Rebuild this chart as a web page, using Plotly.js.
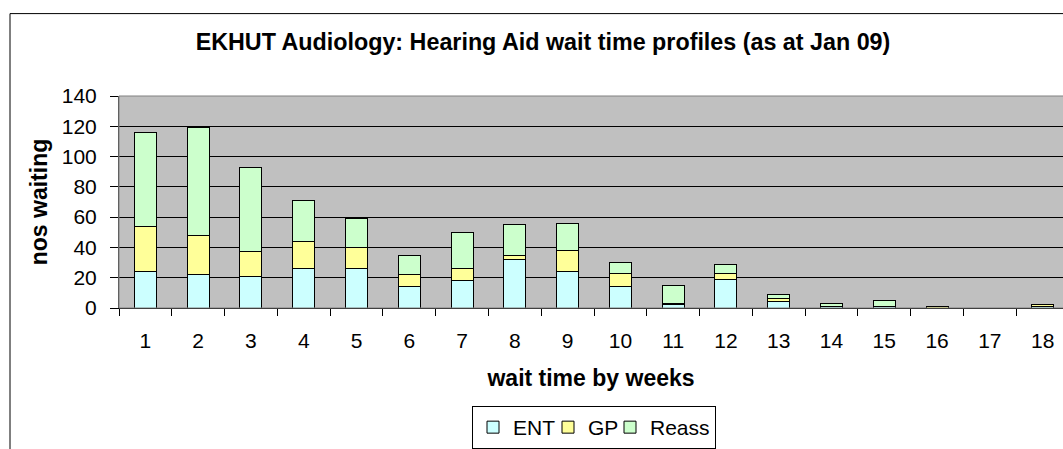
<!DOCTYPE html>
<html>
<head>
<meta charset="utf-8">
<script src="https://cdn.plot.ly/plotly-3.0.1.min.js"></script>
<style>html,body{margin:0;padding:0;background:#fff;}#chart{width:1063px;height:449px;}</style>
</head>
<body>
<div id="chart"></div>
<script>
const weeks = ["1","2","3","4","5","6","7","8","9","10","11","12","13","14","15","16","17","18"];
const ent   = [24, 22, 21, 26, 26, 14, 18, 32, 24, 14, 2, 19, 4, 1, 1, 0, 0, 1];
const gp    = [30, 26, 16, 18, 14,  8,  8,  3, 14,  9, 1,  4, 2, 0, 0, 1, 0, 1];
const reass = [62, 71, 56, 27, 19, 13, 24, 20, 18,  7, 12, 6, 3, 2, 4, 0, 0, 0];
const seriesNames = ["ENT", "GP", "Reass"];
const seriesColors = ["#CCFFFF", "#FFFF99", "#CCFFCC"];
const yTicks = [0, 20, 40, 60, 80, 100, 120, 140];

const FONT = "Liberation Sans, Arial, Helvetica, sans-serif";
const seriesValues = [ent, gp, reass];
const legendWidths = [30, 17, 60];
const traces = seriesValues.map((vals, i) => ({
  type: "bar",
  name: seriesNames[i],
  x: weeks,
  y: vals,
  legendwidth: legendWidths[i],
  marker: {color: seriesColors[i], line: {color: "#000", width: 1}},
  hoverinfo: "x+y+name"
}));

const layout = {
  width: 1063, height: 449,
  margin: {l: 119, r: 0, t: 96, b: 133, pad: 0},
  paper_bgcolor: "#ffffff",
  plot_bgcolor: "#C0C0C0",
  font: {family: FONT, color: "#000", size: 21},
  barmode: "stack",
  bargap: 0.583,
  showlegend: true,
  title: {
    text: "<b>EKHUT Audiology: Hearing Aid wait time profiles (as at Jan 09)</b>",
    font: {family: FONT, size: 23.3, color: "#000"},
    xref: "container", x: 543 / 1063, xanchor: "center",
    yref: "container", y: 1 - 42 / 449, yanchor: "middle"
  },
  xaxis: {
    type: "category",
    categoryorder: "array", categoryarray: weeks,
    range: [-0.5, 17.386],
    tickson: "boundaries",
    ticks: "outside", ticklen: 7, tickwidth: 1, tickcolor: "#000",
    showline: true, linecolor: "#000", linewidth: 1,
    showgrid: false, zeroline: false,
    tickfont: {family: FONT, size: 21, color: "#000"},
    ticklabelstandoff: 14,
    title: {text: "<b>wait time by weeks</b>", font: {family: FONT, size: 23, color: "#000"}, standoff: 18},
    fixedrange: true
  },
  yaxis: {
    range: [0, 140],
    tickvals: yTicks,
    ticktext: yTicks.map(String),
    ticks: "outside", ticklen: 8, tickwidth: 1, tickcolor: "#000",
    showline: true, linecolor: "#404040", linewidth: 1,
    showgrid: true, gridcolor: "#000", gridwidth: 1,
    zeroline: false,
    tickfont: {family: FONT, size: 21, color: "#000"},
    ticklabelstandoff: 9,
    title: {text: "<b>nos waiting</b>", font: {family: FONT, size: 23, color: "#000"}, standoff: 7},
    fixedrange: true
  },
  legend: {
    orientation: "h",
    x: (594 - 119) / 944, xanchor: "center",
    y: (316 - 418) / 220, yanchor: "top",
    bgcolor: "#ffffff", bordercolor: "#000", borderwidth: 1,
    font: {family: FONT, size: 21, color: "#000"},
    itemwidth: 30,
    traceorder: "normal"
  },
  shapes: [
    {type: "rect", xref: "paper", yref: "paper", x0: 0, x1: 1.05, y0: 0, y1: 1,
     line: {color: "#808080", width: 1}, fillcolor: "rgba(0,0,0,0)", layer: "above"},
    {type: "rect", xref: "paper", yref: "paper",
     x0: (10 - 119) / 944, x1: 1.2, y0: -1.0, y1: (316 - 10.5) / 220,
     line: {color: "#000", width: 1}, fillcolor: "rgba(0,0,0,0)", layer: "below"}
  ]
};

Plotly.newPlot("chart", traces, layout, {displayModeBar: false, staticPlot: true});
</script>
</body>
</html>
